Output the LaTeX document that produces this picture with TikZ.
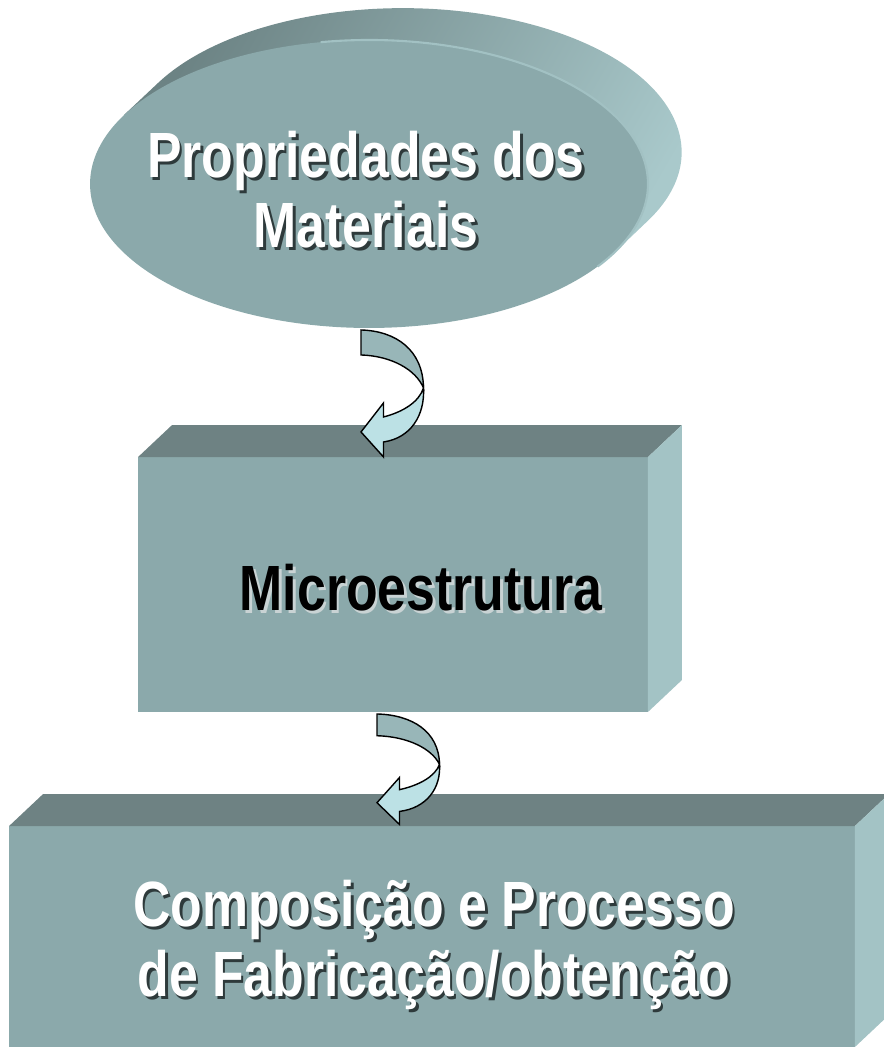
\documentclass[tikz,border=0pt]{standalone}
\usepackage{fontspec}
\usepackage{tikz}
\usetikzlibrary{positioning,calc,shapes.geometric}

\newfontfamily\flowfont{Liberation Sans}[FakeStretch=0.81]

\definecolor{frontcol}{HTML}{8BA9AB}
\definecolor{topcol}{HTML}{6E8283}
\definecolor{sidecol}{HTML}{A3C3C5}
\definecolor{extdark}{HTML}{6C8384}
\definecolor{extlight}{HTML}{A9C9CB}
\definecolor{rimcol}{HTML}{A2C1C3}
\definecolor{arrowup}{HTML}{98B6B8}
\definecolor{arrowdown}{HTML}{BCE1E5}
\definecolor{darkshadow}{HTML}{2E3A3B}
\definecolor{lightshadow}{HTML}{C9D3D4}

% text with a small drop shadow
\newcommand\shadowed[2]{\makebox[0pt][l]{\kern1.5pt\raisebox{-1.5pt}{\color{#1}#2}}#2}

\def\depthx{34}
\def\depthy{32}

\tikzset{
  frontbox/.style={rectangle, fill=frontcol, draw=none, inner sep=0pt, outer sep=0pt},
  frontoval/.style={ellipse, fill=frontcol, draw=none, inner sep=0pt, outer sep=0pt,
    minimum width=11.16cm, minimum height=5.76cm},
  label text/.style={inner sep=0pt, align=center, font=\flowfont\bfseries\fontsize{36.4pt}{40pt}\selectfont},
  twistarrow/.pic={
    % upper half of the bent arrow
    \filldraw[fill=arrowup, draw=black, line width=0.8pt]
      (0,0) .. controls (35,1) and (62,20) .. (62.5,58)
      .. controls (55,40) and (31,26) .. (0,25) -- cycle;
    % lower half with the head
    \filldraw[fill=arrowdown, draw=black, line width=0.8pt]
      (62.5,58) .. controls (64,85) and (50,108) .. (22.5,112)
      -- (22.5,127) -- (0,102) -- (22.5,73) -- (22.5,87)
      .. controls (42,82) and (58,72) .. (62.5,58) -- cycle;
  }
}

\begin{document}
\begin{tikzpicture}[x=0.02cm, y=-0.02cm]
  \useasboundingbox (0,0) rectangle (884,1050);

  % Oval on top, with its raised back
  \coordinate (propc) at (369,184);
  \shade[shading=axis, top color=extdark, bottom color=extlight, shading angle=60]
    ($(propc)+(-211,-101)$) arc[start angle=151.3, end angle=-28.7, x radius=5.58cm, y radius=2.88cm]
    -- ($(propc)+(245,69)$) -- ($(propc)+(-245,-69)$) -- cycle;
  \node[frontoval] (props) at (propc) {};
  \draw[rimcol, line width=1.2pt] ($(props.center)+(-48.4,-141.8)$)
    arc[start angle=100, end angle=-35, x radius=5.58cm, y radius=2.88cm];

  % Boxes
  \node[frontbox, minimum width=10.2cm, minimum height=5.1cm] (micro) at (393,584.5) {};
  \node[frontbox, minimum width=16.92cm, minimum height=4.42cm] (comp) at (432,936.5) {};

  \foreach \b in {micro,comp} {
    % top and right faces
    \fill[topcol] (\b.north west) -- ++(\depthx,-\depthy)
      -- ($(\b.north east)+(\depthx,-\depthy)$) -- (\b.north east) -- cycle;
    \fill[sidecol] (\b.north east) -- ++(\depthx,-\depthy)
      -- ($(\b.south east)+(\depthx,-\depthy)$) -- (\b.south east) -- cycle;
  }

  % Labels
  \node[label text, text=white] (propstext) at (366,191)
    {\shadowed{darkshadow}{Propriedades dos}\\\shadowed{darkshadow}{Materiais}};
  \node[label text, text=black] (microtext) at (421,589)
    {\shadowed{lightshadow}{Microestrutura}};
  \node[label text, text=white] (comptext) at (434,946.5)
    {\shadowed{darkshadow}{Composição e Processo}\\\shadowed{darkshadow}{de Fabricação/obtenção}};

  % Bent arrows between the levels
  \pic at ($(props.south)+(-8,2)$) {twistarrow};
  \pic[yscale=0.87] at ($(micro.south)+(-16,2)$) {twistarrow};
\end{tikzpicture}
\end{document}
